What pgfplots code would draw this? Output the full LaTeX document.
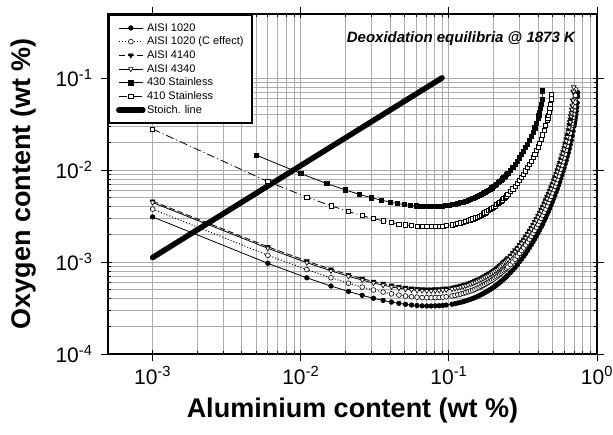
\documentclass[border=0pt]{standalone}
\usepackage{pgfplots}
\pgfplotsset{compat=1.18}
\usepackage{fontspec}
\setmainfont{Liberation Sans}

\pgfplotstableread{
x y
0.001 0.00310
0.006 0.000970
0.011 0.000674
0.016 0.000549
0.021 0.000479
0.026 0.000435
0.031 0.000404
0.036 0.000383
0.041 0.000367
0.046 0.000356
0.051 0.000347
0.056 0.000341
0.061 0.000337
0.066 0.000334
0.071 0.000333
0.076 0.000333
0.081 0.000334
0.086 0.000335
0.091 0.000338
0.096 0.000341
0.105 0.000348
0.11 0.000353
0.115 0.000359
0.12 0.000365
0.125 0.000371
0.13 0.000378
0.135 0.000386
0.14 0.000394
0.145 0.000402
0.15 0.000411
0.155 0.000421
0.16 0.000431
0.165 0.000442
0.17 0.000453
0.175 0.000465
0.18 0.000477
0.185 0.000490
0.19 0.000503
0.195 0.000517
0.20 0.000532
0.205 0.000547
0.21 0.000563
0.215 0.000580
0.22 0.000598
0.225 0.000616
0.23 0.000635
0.235 0.000654
0.24 0.000675
0.245 0.000696
0.25 0.000718
0.26 0.000766
0.27 0.000817
0.28 0.000872
0.29 0.000932
0.30 0.00101
0.31 0.00108
0.32 0.00116
0.33 0.00124
0.34 0.001335
0.35 0.001434
0.36 0.001542
0.37 0.00166
0.38 0.001786
0.39 0.001923
0.40 0.002073
0.41 0.002235
0.42 0.00241
0.43 0.00260
0.44 0.00281
0.45 0.00304
0.46 0.00329
0.47 0.00355
0.48 0.00385
0.49 0.00417
0.50 0.00453
0.51 0.00491
0.52 0.00533
0.53 0.00579
0.54 0.00630
0.55 0.00685
0.56 0.00747
0.57 0.00814
0.58 0.00889
0.59 0.00971
0.60 0.01063
0.61 0.01165
0.62 0.0128
0.63 0.0141
0.64 0.0155
0.65 0.01712
0.66 0.0190
0.67 0.02114
0.68 0.02365
0.69 0.0266
0.70 0.0301
0.705 0.0322
0.71 0.0345
0.715 0.0371
0.72 0.0402
0.725 0.0438
0.73 0.0483
0.735 0.054
0.74 0.0633
0.742 0.070
}\tabA

\pgfplotstableread{
x y
0.001 0.00377
0.006 0.001187
0.011 0.000829
0.016 0.000675
0.021 0.000589
0.026 0.000535
0.031 0.000497
0.036 0.000471
0.041 0.000451
0.046 0.000438
0.051 0.000427
0.056 0.000419
0.061 0.000415
0.066 0.000411
0.071 0.000410
0.076 0.000410
0.081 0.000411
0.086 0.000412
0.091 0.000416
0.096 0.000419
0.105 0.000428
0.11 0.000434
0.115 0.000442
0.12 0.000449
0.125 0.000456
0.13 0.000465
0.135 0.000475
0.14 0.000485
0.145 0.000494
0.15 0.000506
0.155 0.000518
0.16 0.000530
0.165 0.000544
0.17 0.000557
0.175 0.000572
0.18 0.000587
0.185 0.000603
0.19 0.000619
0.195 0.000636
0.20 0.000654
0.205 0.000673
0.21 0.000692
0.215 0.000713
0.22 0.000736
0.225 0.000758
0.23 0.000781
0.235 0.000804
0.24 0.000830
0.245 0.000856
0.25 0.000883
0.26 0.000942
0.27 0.001005
0.28 0.001073
0.29 0.00116
0.30 0.001245
0.31 0.001335
0.32 0.001431
0.33 0.001536
0.34 0.001649
0.35 0.001772
0.36 0.001906
0.37 0.002052
0.38 0.002209
0.39 0.00238
0.40 0.002566
0.41 0.002768
0.42 0.00299
0.43 0.003228
0.44 0.00349
0.45 0.003776
0.46 0.004087
0.47 0.00443
0.48 0.0048
0.49 0.0052
0.50 0.00565
0.51 0.00613
0.52 0.00667
0.53 0.00726
0.54 0.0079
0.55 0.00862
0.56 0.00941
0.57 0.01029
0.58 0.01127
0.59 0.01235
0.60 0.01357
0.61 0.01494
0.62 0.01649
0.63 0.01825
0.64 0.02026
0.65 0.0226
0.66 0.02533
0.67 0.0286
0.675 0.0305
0.68 0.03257
0.685 0.035
0.69 0.0376
0.695 0.0407
0.70 0.0445
0.705 0.049
0.71 0.0549
0.715 0.0652
0.717 0.075
}\tabB

\pgfplotstableread{
x y
0.001 0.0046
0.006 0.001468
0.011 0.001025
0.016 0.000835
0.021 0.000729
0.026 0.000662
0.031 0.000614
0.036 0.000583
0.041 0.000558
0.046 0.000541
0.051 0.000528
0.056 0.000519
0.061 0.000513
0.066 0.000508
0.071 0.000506
0.076 0.000506
0.081 0.000508
0.086 0.000510
0.091 0.000514
0.096 0.000519
0.105 0.000529
0.11 0.000537
0.115 0.000546
0.12 0.000555
0.125 0.000564
0.13 0.000575
0.135 0.000587
0.14 0.000599
0.145 0.000611
0.15 0.000625
0.155 0.000640
0.16 0.000656
0.165 0.000672
0.17 0.000689
0.175 0.000707
0.18 0.000726
0.185 0.000745
0.19 0.000765
0.195 0.000786
0.20 0.000809
0.205 0.000832
0.21 0.000856
0.215 0.000882
0.22 0.000910
0.225 0.000940
0.23 0.000977
0.235 0.00101
0.24 0.00104
0.245 0.001073
0.25 0.001107
0.26 0.001182
0.27 0.001263
0.28 0.00135
0.29 0.001443
0.30 0.001545
0.31 0.001656
0.32 0.001776
0.33 0.001907
0.34 0.002048
0.35 0.002202
0.36 0.002369
0.37 0.002551
0.38 0.002749
0.39 0.002963
0.40 0.003198
0.41 0.003453
0.42 0.00373
0.43 0.004033
0.44 0.00436
0.45 0.00472
0.46 0.00512
0.47 0.00555
0.48 0.00602
0.49 0.00654
0.50 0.00711
0.51 0.00774
0.52 0.00843
0.53 0.0092
0.54 0.01003
0.55 0.01099
0.56 0.01203
0.57 0.0132
0.58 0.0145
0.59 0.0160
0.60 0.01767
0.61 0.01958
0.62 0.0218
0.63 0.0244
0.64 0.0274
0.65 0.0311
0.655 0.0333
0.66 0.0357
0.665 0.0385
0.67 0.0417
0.675 0.0456
0.68 0.0505
0.685 0.0573
0.69 0.071
}\tabC

\pgfplotstableread{
x y
0.001 0.00445
0.006 0.001412
0.011 0.000986
0.016 0.000803
0.021 0.000701
0.026 0.000637
0.031 0.000591
0.036 0.000561
0.041 0.000537
0.046 0.000520
0.051 0.000508
0.056 0.000499
0.061 0.000493
0.066 0.000489
0.071 0.000487
0.076 0.000487
0.081 0.000489
0.086 0.000491
0.091 0.000494
0.096 0.000499
0.105 0.000509
0.11 0.000517
0.115 0.000525
0.12 0.000534
0.125 0.000543
0.13 0.000553
0.135 0.000565
0.14 0.000576
0.145 0.000588
0.15 0.000601
0.155 0.000616
0.16 0.000631
0.165 0.000646
0.17 0.000663
0.175 0.000680
0.18 0.000698
0.185 0.000717
0.19 0.000736
0.195 0.000756
0.20 0.000778
0.205 0.000800
0.21 0.000823
0.215 0.000848
0.22 0.000875
0.225 0.000906
0.23 0.00094
0.235 0.00097
0.24 0.001
0.245 0.001032
0.25 0.001065
0.26 0.001137
0.27 0.001215
0.28 0.001299
0.29 0.001388
0.30 0.001486
0.31 0.001593
0.32 0.001709
0.33 0.001835
0.34 0.00197
0.35 0.002118
0.36 0.002279
0.37 0.002454
0.38 0.002645
0.39 0.00285
0.40 0.003075
0.41 0.003314
0.42 0.00358
0.43 0.00387
0.44 0.00418
0.45 0.00453
0.46 0.00491
0.47 0.00532
0.48 0.00577
0.49 0.00626
0.50 0.00681
0.51 0.0074
0.52 0.00806
0.53 0.0088
0.54 0.0096
0.55 0.0105
0.56 0.01149
0.57 0.0126
0.58 0.01382
0.59 0.01521
0.60 0.0168
0.61 0.0186
0.62 0.02065
0.63 0.02305
0.64 0.02585
0.65 0.0292
0.66 0.0333
0.67 0.0385
0.675 0.0418
0.68 0.0457
0.685 0.0506
0.69 0.0575
0.695 0.072
0.696 0.080
}\tabD

\pgfplotstableread{
x y
0.005 0.0146
0.010 0.0092
0.015 0.00714
0.020 0.0061
0.025 0.00544
0.030 0.00501
0.035 0.00471
0.040 0.0045
0.045 0.00434
0.050 0.00423
0.055 0.00414
0.060 0.00409
0.065 0.00405
0.070 0.00403
0.075 0.00402
0.080 0.00403
0.085 0.00405
0.090 0.00408
0.095 0.00412
0.10 0.004165
0.105 0.00422
0.11 0.00428
0.115 0.00435
0.12 0.00443
0.125 0.00451
0.13 0.0046
0.135 0.0047
0.14 0.0048
0.145 0.004915
0.15 0.00503
0.155 0.00516
0.16 0.00529
0.165 0.00543
0.17 0.00558
0.175 0.005735
0.18 0.0059
0.185 0.00607
0.19 0.00625
0.195 0.00644
0.20 0.00664
0.205 0.00685
0.21 0.00707
0.215 0.00731
0.22 0.00755
0.225 0.0078
0.23 0.00806
0.235 0.00835
0.24 0.00864
0.245 0.00895
0.25 0.00928
0.26 0.00998
0.27 0.01075
0.28 0.0116
0.29 0.01255
0.30 0.0136
0.31 0.01477
0.32 0.0161
0.33 0.01757
0.34 0.01925
0.35 0.02114
0.36 0.02335
0.37 0.0259
0.38 0.0289
0.39 0.03255
0.40 0.0371
0.405 0.0398
0.41 0.043
0.415 0.0468
0.42 0.0517
0.425 0.0585
0.43 0.073
}\tabE

\pgfplotstableread{
x y
0.001 0.028
0.006 0.00751
0.011 0.00509
0.016 0.0041
0.021 0.00355
0.026 0.0032
0.031 0.00297
0.036 0.00281
0.041 0.00269
0.046 0.0026
0.051 0.00254
0.056 0.00249
0.061 0.00246
0.066 0.00244
0.071 0.00243
0.076 0.00243
0.081 0.00243
0.086 0.00245
0.091 0.00246
0.096 0.00249
0.105 0.00254
0.11 0.00258
0.115 0.00262
0.12 0.00267
0.125 0.00272
0.13 0.00277
0.135 0.00283
0.14 0.00289
0.145 0.00295
0.15 0.00303
0.155 0.0031
0.16 0.00318
0.165 0.00326
0.17 0.00335
0.175 0.00343
0.18 0.00353
0.185 0.00363
0.19 0.00374
0.195 0.00384
0.20 0.00396
0.205 0.00407
0.21 0.00421
0.215 0.00433
0.22 0.00448
0.225 0.00461
0.23 0.00477
0.235 0.00493
0.24 0.0051
0.245 0.00527
0.25 0.00545
0.26 0.00584
0.27 0.00626
0.28 0.00672
0.29 0.00723
0.30 0.00779
0.31 0.0084
0.32 0.00907
0.33 0.00982
0.34 0.01064
0.35 0.01155
0.36 0.01256
0.37 0.0137
0.38 0.01494
0.39 0.01635
0.40 0.01795
0.41 0.01975
0.42 0.02185
0.43 0.02425
0.44 0.0271
0.45 0.0305
0.46 0.0346
0.465 0.0371
0.47 0.0399
0.475 0.0432
0.48 0.0472
0.485 0.0522
0.49 0.0598
0.493 0.067
}\tabF

\begin{document}
\begin{tikzpicture}
\begin{axis}[
  at={(0pt,0pt)}, anchor=south west,
  scale only axis, width=489pt, height=340pt,
  xmode=log, ymode=log,
  xmin=5e-4, xmax=1, ymin=1e-4, ymax=0.5,
  xtick={1e-3,1e-2,1e-1,1},
  xticklabels={10\textsuperscript{-3},10\textsuperscript{-2},10\textsuperscript{-1},10\textsuperscript{0}},
  ytick={1e-4,1e-3,1e-2,1e-1},
  yticklabels={10\textsuperscript{-4},10\textsuperscript{-3},10\textsuperscript{-2},10\textsuperscript{-1}},
  ticklabel style={font=\fontsize{21}{21}\selectfont},
  xticklabel style={yshift=-9pt},
  yticklabel style={xshift=-12pt},
  grid=both,
  major grid style={gray!65, line width=0.8pt},
  minor grid style={gray!65, line width=0.8pt},
  axis line style={line width=2.2pt},
  tick align=inside, major tick length=4pt, minor tick length=3pt,
  tick style={black, line width=0.8pt},
  extra x ticks={1e-3,1e-2,1e-1,1}, extra x tick labels={},
  extra y ticks={1e-4,1e-3,1e-2,1e-1}, extra y tick labels={},
  extra tick style={tick align=outside, major tick length=7pt, grid=none},
  xlabel={Aluminium content (wt \%)},
  ylabel={Oxygen content (wt \%)},
  xlabel style={font=\bfseries\fontsize{27}{27}\selectfont, at={(axis description cs:0.5,-0.165)}, anchor=center},
  ylabel style={font=\bfseries\fontsize{27}{27}\selectfont, at={(axis description cs:-0.172,0.5)}, anchor=center},
  legend image code/.code={\draw[mark repeat=2,mark phase=2,#1] plot coordinates {(0pt,0pt) (12pt,0pt) (24pt,0pt)};},
  legend style={at={(rel axis cs:0,1)}, anchor=north west, draw=black, line width=2.2pt,
    fill=white, font=\fontsize{11}{12}\selectfont, inner xsep=7pt, inner ysep=6pt,
    nodes={inner sep=1.5pt, text height=8.5pt, text depth=2.2pt}, row sep=0pt},
  legend cell align=left,
]
\addplot[black, solid, line width=0.8pt, mark=*, mark size=2.3pt, mark options={solid, line width=0.6pt}] table {\tabA};
\addlegendentry{AISI 1020}
\addplot[black, dotted, line width=1pt, mark=*, mark size=2.4pt, mark options={solid, fill=white, line width=0.6pt}] table {\tabB};
\addlegendentry{AISI 1020 (C effect)}
\addplot[black, dash pattern=on 6pt off 3pt, line width=0.8pt, mark=triangle*, mark size=2.7pt, mark options={solid, rotate=180, line width=0.6pt}] table {\tabC};
\addlegendentry{AISI 4140}
\addplot[black, solid, line width=0.8pt, mark=triangle*, mark size=2.7pt, mark options={solid, rotate=180, fill=white, line width=0.6pt}] table {\tabD};
\addlegendentry{AISI 4340}
\addplot[black, solid, line width=0.8pt, mark=square*, mark size=2.1pt, mark options={solid, line width=0.6pt}] table {\tabE};
\addlegendentry{430 Stainless}
\addplot[black, dash pattern=on 8pt off 3pt on 1pt off 3pt, line width=0.8pt, mark=square*, mark size=2.1pt, mark options={solid, fill=white, line width=0.6pt}] table {\tabF};
\addlegendentry{410 Stainless}
\addplot[black, line width=5.5pt, line cap=round, no marks] coordinates {(0.001,0.00112) (0.09,0.101)};
\addlegendentry{Stoich. line}
\node[anchor=east, font=\bfseries\itshape\fontsize{15}{15}\selectfont] at (rel axis cs:0.962,0.929) {Deoxidation equilibria @ 1873 K};
\end{axis}
\pgfresetboundingbox
\path (-108pt,-81pt) rectangle (505pt,354pt);
\end{tikzpicture}
\end{document}
